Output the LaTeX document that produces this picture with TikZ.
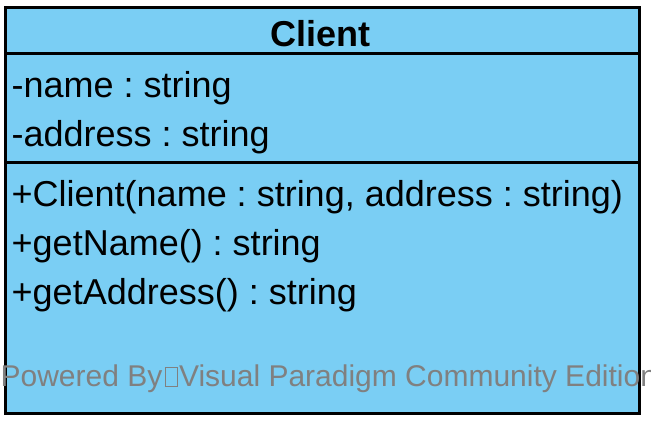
\documentclass[tikz,border=0pt]{standalone}
\usepackage{fontspec}
\setmainfont{Liberation Sans}
\definecolor{classblue}{RGB}{122,206,244}
\definecolor{markgray}{RGB}{128,128,128}
\newcommand{\nobox}{{\setlength\fboxsep{0pt}\setlength\fboxrule{0.7bp}\hspace{2.5bp}\framebox[13bp]{\rule{0pt}{18bp}}\hspace{1.2bp}}}
\tikzset{
  member/.style={anchor=base west, inner sep=0pt, font=\fontsize{36bp}{40bp}\selectfont},
  divider/.style={line width=3bp, black}
}
\frenchspacing
\begin{document}
\begin{tikzpicture}[x=1bp, y=-1bp]
  \useasboundingbox (0,0) rectangle (651,426);

  \node (class) at (322.5,210) [draw, line width=3bp, fill=classblue, minimum width=633bp, minimum height=406bp, inner sep=0pt] {};

  \draw (class.west |- 0,53.5) -- (class.east |- 0,53.5) [divider];
  \draw (class.west |- 0,162.5) -- (class.east |- 0,162.5) [divider];

  \node (title) at (320.3,46.5) [anchor=base, inner sep=0pt, font=\fontsize{36bp}{40bp}\selectfont\bfseries] {Client};

  \node (name)    at (11.5,97)  [member] {-name : string};
  \node (address) at (11.5,146) [member] {-address : string};

  \node (ctor)       at (11.5,206) [member] {+Client(name : string, address : string)};
  \node (getname)    at (11.5,255) [member] {+getName() : string};
  \node (getaddress) at (11.5,304) [member] {+getAddress() : string};

  \node (mark) at (0.4,386) [anchor=base west, inner sep=0pt, text=markgray, font=\fontsize{30bp}{32bp}\selectfont] {Powered By\nobox Visual Paradigm Community Edition};
\end{tikzpicture}
\end{document}
